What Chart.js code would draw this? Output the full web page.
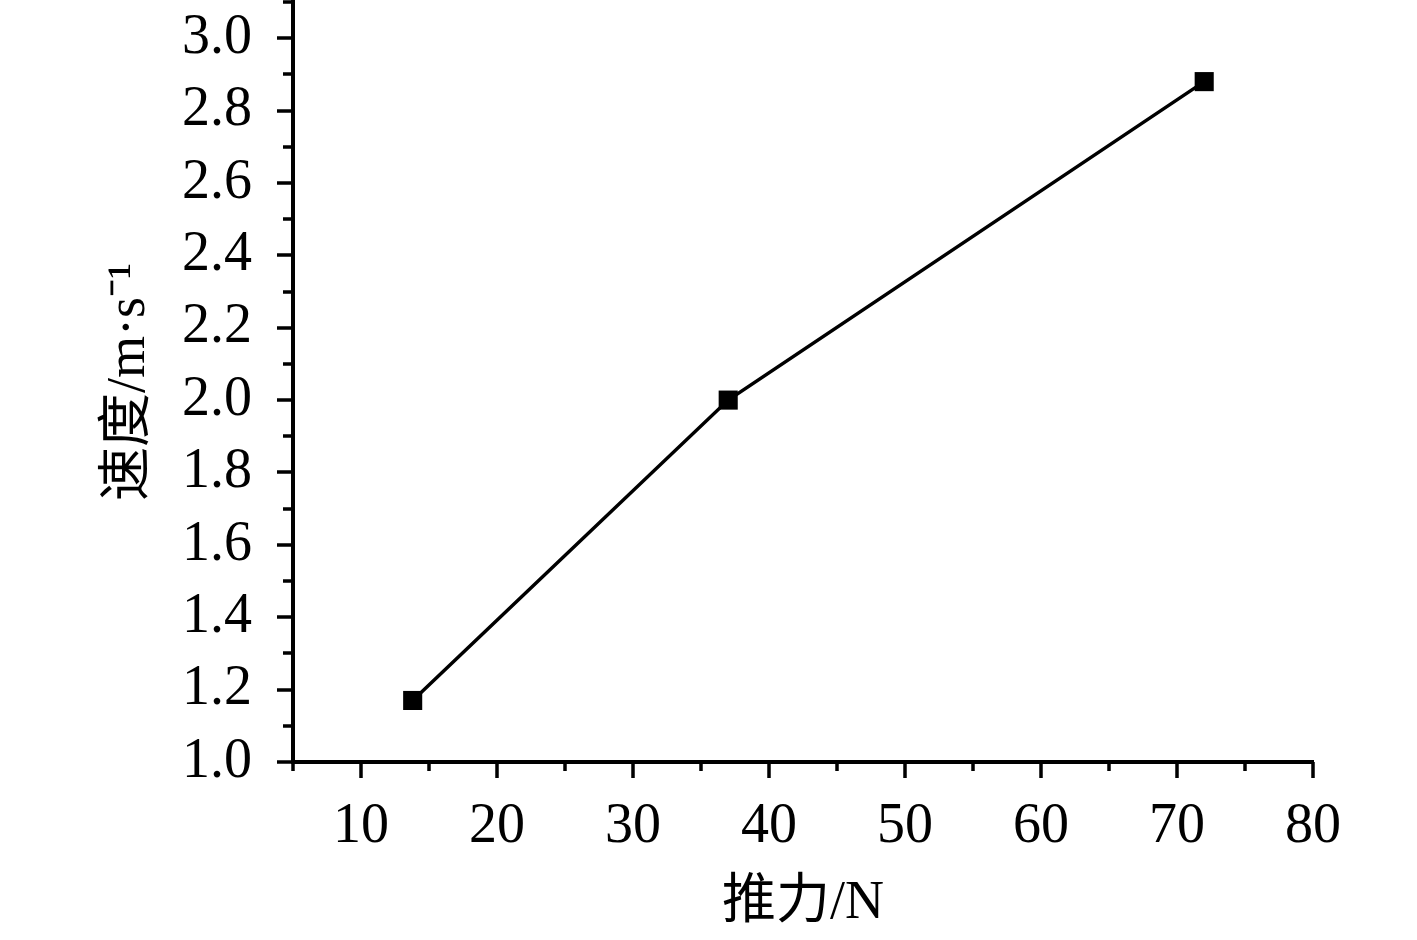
<!DOCTYPE html>
<html>
<head>
<meta charset="utf-8">
<script src="https://cdn.jsdelivr.net/npm/chart.js@4/dist/chart.umd.min.js"></script>
<style>
  html, body { margin: 0; padding: 0; background: #fff; }
  #wrap { width: 1417px; height: 940px; position: relative; }
</style>
</head>
<body>
<div id="wrap"><canvas id="c"></canvas></div>
<script>
// ---- data ----
const thrust = [13.8, 37, 72];          // 推力 / N
const speed = [1.17, 2.0, 2.88];        // 速度 / m·s⁻¹
const xTickLabels = [10, 20, 30, 40, 50, 60, 70, 80];
const yTickLabels = [1.0, 1.2, 1.4, 1.6, 1.8, 2.0, 2.2, 2.4, 2.6, 2.8, 3.0];
const xTitle = '推力/N';
const yTitle = '速度/m·s⁻¹';

const FONT = "'Liberation Serif', 'Noto Sans CJK SC', serif";

const tickPlugin = {
  id: 'customTicks',
  afterDraw(chart) {
    const ctx = chart.ctx;
    const xs = chart.scales.x, ys = chart.scales.y;
    const area = chart.chartArea;
    ctx.save();
    ctx.strokeStyle = '#000';
    ctx.lineWidth = 3.5;
    ctx.beginPath();
    for (let v = xs.min; v <= xs.max + 1e-9; v += 5) {
      const major = xTickLabels.some(t => Math.abs(t - v) < 1e-6);
      const px = Math.round(xs.getPixelForValue(v));
      ctx.moveTo(px, area.bottom);
      ctx.lineTo(px, area.bottom + (major ? 16 : 9));
    }
    for (let i = 0; i <= Math.round((ys.max - ys.min) / 0.1); i++) {
      const v = ys.min + i * 0.1;
      const major = yTickLabels.some(t => Math.abs(t - v) < 1e-6);
      const py = Math.round(ys.getPixelForValue(v));
      ctx.moveTo(area.left, py);
      ctx.lineTo(area.left - (major ? 16 : 10), py);
    }
    ctx.stroke();
    ctx.restore();
  }
};

new Chart(document.getElementById('c'), {
  type: 'line',
  data: {
    datasets: [{
      data: thrust.map((x, i) => ({ x, y: speed[i] })),
      borderColor: '#000',
      backgroundColor: '#000',
      borderWidth: 3.5,
      pointStyle: 'rect',
      pointRadius: 13.5,
      pointHoverRadius: 13.5,
      pointBorderWidth: 0,
      tension: 0,
      clip: false
    }]
  },
  options: {
    responsive: true,
    maintainAspectRatio: false,
    animation: false,
    events: [],
    layout: { autoPadding: false, padding: { left: 0, right: 104, top: 2, bottom: 0 } },
    plugins: { legend: { display: false }, tooltip: { enabled: false } },
    scales: {
      x: {
        type: 'linear',
        min: 5, max: 80,
        afterBuildTicks: s => { s.ticks = xTickLabels.map(v => ({ value: v })); },
        afterFit: s => { s.height = 178; s.paddingLeft = 0; s.paddingRight = 0; },
        grid: { display: false, drawTicks: false },
        border: { display: true, color: '#000', width: 4 },
        ticks: {
          color: '#000',
          padding: 32,
          maxRotation: 0,
          autoSkip: false,
          font: { family: FONT, size: 56 },
          callback: v => String(v)
        },
        title: {
          display: true,
          text: xTitle,
          color: '#000',
          font: { family: FONT, size: 54 },
          padding: { top: 0, bottom: 4 }
        }
      },
      y: {
        type: 'linear',
        min: 1.0, max: 3.1,
        afterBuildTicks: s => { s.ticks = yTickLabels.map(v => ({ value: v })); },
        afterFit: s => { s.width = 293; s.paddingTop = 0; s.paddingBottom = 0; },
        grid: { display: false, drawTicks: false },
        border: { display: true, color: '#000', width: 4 },
        ticks: {
          color: '#000',
          padding: 41,
          autoSkip: false,
          font: { family: FONT, size: 56 },
          callback: v => Number(v).toFixed(1)
        },
        title: {
          display: true,
          text: yTitle,
          color: '#000',
          font: { family: FONT, size: 54 },
          padding: { top: 97, bottom: 0 }
        }
      }
    }
  },
  plugins: [tickPlugin]
});
</script>
</body>
</html>
